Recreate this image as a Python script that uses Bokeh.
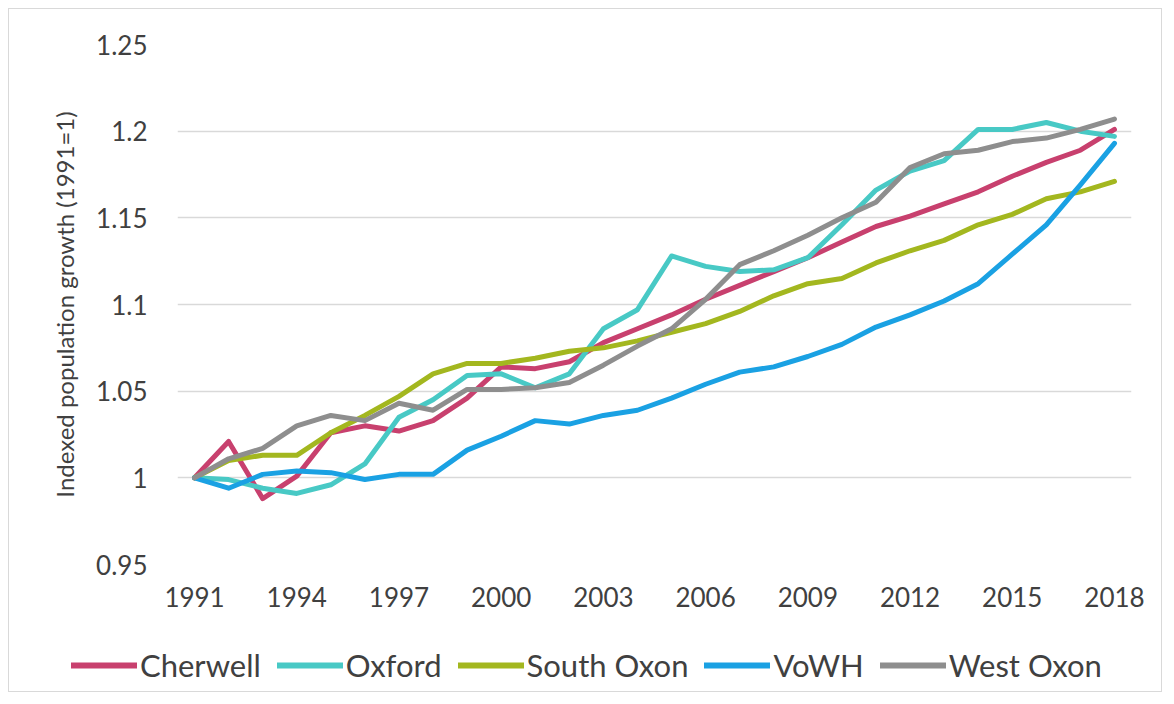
from bokeh.plotting import figure
from bokeh.models import FixedTicker, Legend, LegendItem, Range1d
from bokeh.embed import file_html
from bokeh.resources import INLINE

years = list(range(1991, 2019))
x_ticks = [1991, 1994, 1997, 2000, 2003, 2006, 2009, 2012, 2015, 2018]
y_ticks = [0.95, 1.0, 1.05, 1.1, 1.15, 1.2, 1.25]
y_tick_labels = {0.95: "0.95", 1.0: "1", 1.05: "1.05", 1.1: "1.1", 1.15: "1.15", 1.2: "1.2", 1.25: "1.25"}

cherwell = [1.000, 1.021, 0.988, 1.001, 1.026, 1.030, 1.027, 1.033, 1.046, 1.064,
            1.063, 1.067, 1.078, 1.086, 1.094, 1.103, 1.111, 1.119, 1.127, 1.136,
            1.145, 1.151, 1.158, 1.165, 1.174, 1.182, 1.189, 1.201]
oxford = [1.000, 0.999, 0.994, 0.991, 0.996, 1.008, 1.035, 1.045, 1.059, 1.060,
          1.052, 1.060, 1.086, 1.097, 1.128, 1.122, 1.119, 1.120, 1.127, 1.146,
          1.166, 1.177, 1.183, 1.201, 1.201, 1.205, 1.200, 1.197]
south_oxon = [1.000, 1.010, 1.013, 1.013, 1.026, 1.036, 1.047, 1.060, 1.066, 1.066,
              1.069, 1.073, 1.075, 1.079, 1.084, 1.089, 1.096, 1.105, 1.112, 1.115,
              1.124, 1.131, 1.137, 1.146, 1.152, 1.161, 1.165, 1.171]
vowh = [1.000, 0.994, 1.002, 1.004, 1.003, 0.999, 1.002, 1.002, 1.016, 1.024,
        1.033, 1.031, 1.036, 1.039, 1.046, 1.054, 1.061, 1.064, 1.070, 1.077,
        1.087, 1.094, 1.102, 1.112, 1.129, 1.146, 1.169, 1.193]
west_oxon = [1.000, 1.011, 1.017, 1.030, 1.036, 1.033, 1.043, 1.039, 1.051, 1.051,
             1.052, 1.055, 1.065, 1.076, 1.086, 1.103, 1.123, 1.131, 1.140, 1.150,
             1.159, 1.179, 1.187, 1.189, 1.194, 1.196, 1.201, 1.207]

names = ["Cherwell", "Oxford", "South Oxon", "VoWH", "West Oxon"]
series = [cherwell, oxford, south_oxon, vowh, west_oxon]
colors = ["#C8406E", "#48C9C5", "#A3B71F", "#1AA1E3", "#8E8E8E"]

FONT = "Lato"
TXT = "#404040"
BORDER = "1px solid #D9D9D9"

# main chart
p = figure(width=1154, height=604, output_backend="svg", toolbar_location=None,
           x_range=Range1d(1990.5, 2018.5), y_range=Range1d(0.95, 1.25),
           min_border_left=168, min_border_right=32, min_border_top=35, min_border_bottom=49)
p.margin = (8, 8, 0, 8)
p.styles = {"border-top": BORDER, "border-left": BORDER, "border-right": BORDER}
p.outline_line_color = None
p.background_fill_color = "white"
p.border_fill_color = "white"

p.xgrid.grid_line_color = None
p.ygrid.grid_line_color = "#D9D9D9"
p.ygrid.grid_line_width = 1.5
p.ygrid.ticker = FixedTicker(ticks=y_ticks)

p.xaxis.ticker = FixedTicker(ticks=x_ticks)
p.yaxis.ticker = FixedTicker(ticks=y_ticks)
p.yaxis.major_label_overrides = y_tick_labels
for ax in (p.xaxis, p.yaxis):
    ax.axis_line_color = None
    ax.major_tick_line_color = None
    ax.minor_tick_line_color = None
    ax.major_label_text_font = FONT
    ax.major_label_text_font_size = "26px"
    ax.major_label_text_color = TXT
p.xaxis.major_label_standoff = 16
p.yaxis.major_label_standoff = 24
p.yaxis.axis_label = "Indexed population growth (1991=1)"
p.yaxis.axis_label_text_font = FONT
p.yaxis.axis_label_text_font_size = "24px"
p.yaxis.axis_label_text_font_style = "normal"
p.yaxis.axis_label_text_color = TXT
p.yaxis.axis_label_standoff = 14

for vals, col in zip(series, colors):
    p.line(years, vals, line_color=col, line_width=5, line_join="round", line_cap="round")

# legend strip (same series drawn outside its visible range, used only as legend glyphs)
q = figure(width=1154, height=80, output_backend="svg", toolbar_location=None,
           x_range=Range1d(0, 1), y_range=Range1d(0, 1),
           x_axis_location=None, y_axis_location=None,
           min_border_left=0, min_border_right=0, min_border_top=0, min_border_bottom=0)
q.margin = (0, 8, 8, 8)
q.styles = {"border-bottom": BORDER, "border-left": BORDER, "border-right": BORDER}
q.outline_line_color = None
q.xgrid.grid_line_color = None
q.ygrid.grid_line_color = None
q.border_fill_color = "white"
q.background_fill_color = "white"
items = []
for name, vals, col in zip(names, series, colors):
    r = q.line(years, vals, line_color=col, line_width=6, line_cap="round")
    items.append(LegendItem(label=name, renderers=[r]))

legend = Legend(items=items, orientation="horizontal", location=(62, 8),
                label_text_font=FONT, label_text_font_size="31px", label_text_color=TXT,
                glyph_width=66, label_standoff=3, spacing=16, margin=0, padding=4,
                border_line_color=None, background_fill_alpha=0)
q.add_layout(legend, "center")

open("out.html", "w").write(file_html([p, q], INLINE))
